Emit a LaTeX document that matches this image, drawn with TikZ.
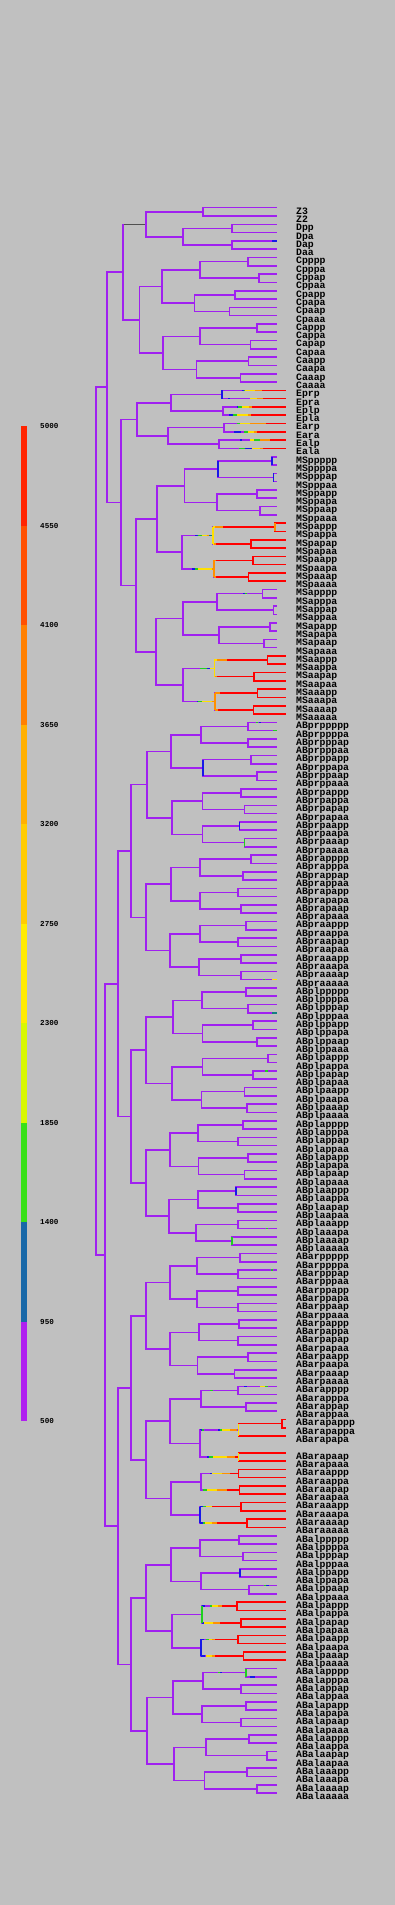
\documentclass[tikz,border=0pt]{standalone}
\usepackage{fontspec}
\newfontfamily\monof{Liberation Mono}
\usetikzlibrary{calc}
\pgfdeclarelayer{vb}
\pgfsetlayers{main,vb}
\definecolor{bg}{HTML}{C0C0C0}
\definecolor{pur}{HTML}{A020F0}
\definecolor{blu}{HTML}{1818E8}
\definecolor{grn}{HTML}{20D020}
\definecolor{yel}{HTML}{FFE000}
\definecolor{ora}{HTML}{FF9000}
\definecolor{rd}{HTML}{FF0000}
\definecolor{tl}{HTML}{108080}
\definecolor{dk}{HTML}{505050}
\definecolor{L1}{HTML}{FF2400}
\definecolor{L2}{HTML}{FF5000}
\definecolor{L3}{HTML}{FF8000}
\definecolor{L4}{HTML}{FFB000}
\definecolor{L5}{HTML}{FFCC00}
\definecolor{L6}{HTML}{FFEC00}
\definecolor{L7}{HTML}{D8F800}
\definecolor{L8}{HTML}{38E018}
\definecolor{L9}{HTML}{1868A8}
\definecolor{L10}{HTML}{B020F0}
\tikzset{
 br/.style={line width=1.6pt,pur},
 lab/.style={anchor=base west,inner sep=0pt,font=\monof\bfseries\fontsize{9.8}{10}\selectfont},
 leg/.style={anchor=west,inner sep=0pt,font=\monof\bfseries\fontsize{7.6}{8}\selectfont}}
\newcommand\JJ[6]{%
 \coordinate (#3m) at ($(#5)!.5!(#6)$);
 \coordinate (#3) at (#4,0 |- #3m);
 \draw[br,#1] (#3) |- (#5);
 \draw[br,#1] (#3) |- (#6);
 \begin{pgfonlayer}{vb}\draw[br,#2] (#3 |- #5) -- (#3 |- #6);\end{pgfonlayer}}
\newcommand\J[5][pur]{\JJ{pur}{#1}{#2}{#3}{#4}{#5}}
\newcommand\JR[5][rd]{\JJ{rd}{#1}{#2}{#3}{#4}{#5}}
\newcommand\sg[4]{\draw[br,#1] (#2,0 |- #4) -- (#3,0 |- #4);}
\newcommand\toR[2]{\draw[br,rd] (#1,0 |- #2) -- (#2);}
\newcommand\fivelab[2]{\foreach \a/\ai in {p/0,a/1} {\foreach \b/\bi in {p/0,a/1} {\foreach \c/\ci in {p/0,a/1} {\foreach \d/\di in {p/0,a/1} {\foreach \e/\ei in {p/0,a/1} {\pgfmathtruncatemacro\rr{#2+16*\ai+8*\bi+4*\ci+2*\di+\ei}\node[lab] (t\rr) at (296,{214.1+(\rr-1)*8.3}) {#1\a\b\c\d\e};}}}}}}
\newcommand\fourlab[2]{\foreach \b/\bi in {p/0,a/1} {\foreach \c/\ci in {p/0,a/1} {\foreach \d/\di in {p/0,a/1} {\foreach \e/\ei in {p/0,a/1} {\pgfmathtruncatemacro\rr{#2+8*\bi+4*\ci+2*\di+\ei}\node[lab] (t\rr) at (296,{214.1+(\rr-1)*8.3}) {#1\b\c\d\e};}}}}}
\newcommand\leafrow[3]{\foreach \r in {#1,...,#2} \coordinate (r\r) at (#3,{207.7+(\r-1)*8.3});}
\begin{document}
\begin{tikzpicture}[x=1pt,y=-1pt]
\fill[bg] (0,0) rectangle (395,1905);
\useasboundingbox (0,0) rectangle (395,1905);
% legend
\foreach \i/\c in {0/L1,1/L2,2/L3,3/L4,4/L5,5/L6,6/L7,7/L8,8/L9,9/L10}
  \fill[\c] (20.5,{426+99.5*\i}) rectangle (26.7,{525.5+99.5*\i});
\foreach \i/\v in {0/5000,1/4550,2/4100,3/3650,4/3200,5/2750,6/2300,7/1850,8/1400,9/950,10/500}
  \node[leg] (g\i) at (40,{426+99.5*\i}) {\v};
% leaves
\leafrow{1}{149}{276.7}
\leafrow{151}{192}{276.7}
\leafrow{23}{30}{286}
\leafrow{39}{46}{286}
\leafrow{55}{62}{286}
\leafrow{147}{149}{286}
\leafrow{151}{160}{286}
\leafrow{169}{176}{286}
% labels
\foreach \r/\t in {1/Z3,2/Z2,3/Dpp,4/Dpa,5/Dap,6/Daa,7/Cpppp,8/Cpppa,9/Cppap,10/Cppaa,11/Cpapp,12/Cpapa,13/Cpaap,14/Cpaaa,15/Cappp,16/Cappa,17/Capap,18/Capaa,19/Caapp,20/Caapa,21/Caaap,22/Caaaa,23/Eprp,24/Epra,25/Eplp,26/Epla,27/Earp,28/Eara,29/Ealp,30/Eala,143/ABarapppp,144/ABarapppa,145/ABarappap,146/ABarappaa,147/ABarapappp,148/ABarapappa,149/ABarapapa,151/ABarapaap,152/ABarapaaa,153/ABaraappp,154/ABaraappa,155/ABaraapap,156/ABaraapaa,157/ABaraaapp,158/ABaraaapa,159/ABaraaaap,160/ABaraaaaa}
  \node[lab] (t\r) at (296,{214.1+(\r-1)*8.3}) {\t};
\fivelab{MS}{31}
\fivelab{ABpr}{63}
\fivelab{ABpl}{95}
\fourlab{ABarp}{127}
\fivelab{ABal}{161}
% Z, D
\J{z}{202.7}{r1}{r2}
\J{dp}{231.7}{r3}{r4}
\J{da}{231.7}{r5}{r6}
\sg{blu}{272}{276.7}{r5}
\J{d}{182.7}{dp}{da}
\J{zd}{145.7}{z}{d}
% C
\J{c1}{247.7}{r7}{r8} \J{c2}{259}{r9}{r10} \J{cpp}{200}{c1}{c2}
\J{c3}{235}{r11}{r12} \J{c4}{229.3}{r13}{r14} \J{cpa}{194.3}{c3}{c4}
\J{cp}{161.7}{cpp}{cpa}
\J{c5}{256.7}{r15}{r16} \J{c6}{250.3}{r17}{r18} \J{cap}{200}{c5}{c6}
\J{c7}{248.3}{r19}{r20} \J{c8}{240.3}{r21}{r22} \J{caa}{196.3}{c7}{c8}
\J{ca}{162.7}{cap}{caa}
\J{c}{139.3}{cp}{ca}
\J{zdc}{122.7}{zd}{c}
\sg{bg}{123.6}{144.8}{zd}
\draw[dk,line width=0.7pt] (zdc |- zd) -- (zd);
% E
\J[blu]{e1}{221.7}{r23}{r24} \J{e2}{222.7}{r25}{r26}
\J{e3}{223.7}{r27}{r28} \J{e4}{218.7}{r29}{r30}
\sg{blu}{241.7}{243.5}{r23} \sg{grn}{243.5}{245}{r23} \sg{yel}{245}{255}{r23} \sg{ora}{255}{262}{r23} \toR{262}{r23}
\sg{blu}{228}{230}{r24} \sg{yel}{250}{257}{r24} \sg{ora}{257}{263}{r24} \toR{263}{r24}
\sg{blu}{236.7}{238}{r25} \sg{grn}{238}{241.7}{r25} \sg{yel}{241.7}{249}{r25} \sg{ora}{249}{252}{r25} \toR{252}{r25}
\sg{blu}{229}{233}{r26} \sg{grn}{233}{237}{r26} \sg{yel}{237}{248}{r26} \sg{ora}{248}{251}{r26} \toR{251}{r26}
\sg{grn}{236.7}{240}{r27} \sg{yel}{240}{250}{r27} \sg{ora}{250}{266}{r27} \toR{266}{r27}
\sg{blu}{234}{241}{r28} \sg{grn}{244}{248}{r28} \sg{yel}{248}{254}{r28} \sg{ora}{254}{257}{r28} \toR{257}{r28}
\sg{blu}{240}{241.5}{r29} \sg{yel}{250}{254}{r29} \sg{grn}{254}{260}{r29} \sg{ora}{260}{270}{r29} \toR{270}{r29}
\sg{grn}{239}{245}{r30} \sg{blu}{245}{252}{r30} \sg{yel}{252}{260}{r30} \sg{ora}{260}{263}{r30} \toR{263}{r30}
\J{ep}{170.7}{e1}{e2} \J{ea}{167.7}{e3}{e4} \J{e}{136.7}{ep}{ea}
% MS
\J[blu]{m1}{272}{r31}{r32} \J[blu]{m2}{273.3}{r33}{r34} \J[blu]{m12}{217.7}{m1}{m2}
\J{m3}{256.7}{r35}{r36} \J{m4}{260}{r37}{r38} \J{m34}{216.7}{m3}{m4}
\J{mpp}{184.3}{m12}{m34}
\JR[ora]{m5}{275}{r39}{r40} \JR{m6}{250.7}{r41}{r42} \J[yel]{m56}{212.7}{m5}{m6}
\sg{yel}{212.7}{215}{m5} \sg{ora}{215}{223}{m5} \toR{223}{m5}
\sg{yel}{212.7}{214}{m6} \sg{ora}{214}{216}{m6} \toR{216}{m6}
\JR{m7}{252.7}{r43}{r44} \JR{m8}{248.3}{r45}{r46} \J[ora]{m78}{213.7}{m7}{m8}
\sg{ora}{213.7}{216}{m7} \toR{216}{m7} \sg{ora}{213.7}{216}{m8} \toR{216}{m8}
\J{mpa}{181.7}{m56}{m78}
\sg{blu}{195}{198}{m56} \sg{grn}{198}{201.7}{m56} \sg{yel}{201.7}{206.7}{m56} \sg{ora}{206.7}{209.3}{m56} \sg{tl}{209.3}{212.7}{m56}
\sg{blu}{191.7}{195}{m78} \sg{grn}{195}{198.3}{m78} \sg{yel}{198.3}{211.7}{m78} \sg{ora}{211.7}{213.7}{m78}
\J{mp}{156.7}{mpp}{mpa}
\J{m9}{262.3}{r47}{r48} \J{m10}{273.3}{r49}{r50} \J{m910}{216.7}{m9}{m10}
\sg{blu}{243}{245}{m9} \sg{grn}{245}{247}{m9}
\J{m11}{270}{r51}{r52} \J{m12b}{264}{r53}{r54} \J{m1112}{219}{m11}{m12b}
\J{map}{182.7}{m910}{m1112}
\JR{m13}{267.3}{r55}{r56} \JR{m14}{254}{r57}{r58} \J[yel]{m1314}{214.3}{m13}{m14}
\sg{yel}{214.3}{217}{m13} \sg{ora}{217}{227}{m13} \toR{227}{m13}
\sg{ora}{214.3}{217}{m14} \toR{217}{m14}
\JR{m15}{257.3}{r59}{r60} \JR{m16}{253.3}{r61}{r62} \J[ora]{m1516}{215}{m15}{m16}
\sg{ora}{215}{220}{m15} \toR{220}{m15} \sg{ora}{215}{218}{m16} \toR{218}{m16}
\J{maa}{182.7}{m1314}{m1516}
\sg{grn}{200}{206.7}{m1314} \sg{blu}{206.7}{210}{m1314} \sg{yel}{210}{214.3}{m1314}
\sg{blu}{196.7}{198}{m1516} \sg{grn}{198}{201.7}{m1516} \sg{yel}{201.7}{211.7}{m1516} \sg{ora}{211.7}{215}{m1516}
\J{ma}{156}{map}{maa}
\J{ms}{136}{mp}{ma}
\J{ems}{120.7}{e}{ms}
\J{top}{106.7}{zdc}{ems}
% ABpr
\J{p1}{247.7}{r63}{r64} \J{p2}{247.7}{r65}{r66} \J{p12}{200.7}{p1}{p2}
\sg{grn}{256}{258}{r63} \sg{blu}{259}{261}{r63} \sg{grn}{273}{276.7}{r64}
\J{p3}{250.7}{r67}{r68} \J{p4}{256.7}{r69}{r70} \J[blu]{p34}{202.7}{p3}{p4}
\J{p5}{240.7}{r71}{r72} \J{p6}{244.3}{r73}{r74} \J{p56}{202.3}{p5}{p6}
\J[blu]{p7}{239.3}{r75}{r76} \J[grn]{p8}{244.3}{r77}{r78} \J{p78}{202.3}{p7}{p8}
\J{p9}{250.7}{r79}{r80} \J{p10}{242.7}{r81}{r82} \J{p910}{200}{p9}{p10}
\J{p11}{237.7}{r83}{r84} \J{p12b}{240.7}{r85}{r86} \J{p1112}{200}{p11}{p12b}
\J{p13}{245.7}{r87}{r88} \J{p14}{237.7}{r89}{r90} \J{p1314}{200}{p13}{p14}
\J{p15}{240.7}{r91}{r92} \J{p16}{240.7}{r93}{r94} \J{p1516}{199}{p15}{p16}
\sg{grn}{263}{265}{r94} \sg{yel}{272}{276.7}{r94}
\J{pr1}{170.7}{p12}{p34} \J{pr2}{171.7}{p56}{p78} \J{pr3}{170.7}{p910}{p1112} \J{pr4}{170}{p1314}{p1516}
\J{prA}{146.7}{pr1}{pr2} \J{prB}{146}{pr3}{pr4} \J{pr}{130.7}{prA}{prB}
% ABpl
\J{l1}{245.7}{r95}{r96} \J{l2}{247.7}{r97}{r98} \J{l12}{201.7}{l1}{l2}
\sg{tl}{272}{276.7}{r98}
\J{l3}{252.7}{r99}{r100} \J{l4}{256.7}{r101}{r102} \J{l34}{202.3}{l3}{l4}
\J{l5}{267.7}{r103}{r104} \J{l6}{252.7}{r105}{r106} \J{l56}{202.3}{l5}{l6}
\sg{grn}{265}{268}{r105}
\J{l7}{244.3}{r107}{r108} \J{l8}{246.7}{r109}{r110} \J{l78}{201.3}{l7}{l8}
\J{l9}{242.7}{r111}{r112} \J{l10}{237.7}{r113}{r114} \J{l910}{197.7}{l9}{l10}
\J{l11}{247.7}{r115}{r116} \J{l12b}{244.3}{r117}{r118} \J{l1112}{198.3}{l11}{l12b}
\J[blu]{l13}{235.7}{r119}{r120} \J{l14}{237.7}{r121}{r122} \J{l1314}{197.7}{l13}{l14}
\J{l15}{237.7}{r123}{r124} \J[grn]{l16}{231.7}{r125}{r126} \J{l1516}{196}{l15}{l16}
\sg{grn}{266}{268}{r124}
\J{pl1}{172.7}{l12}{l34} \J{pl2}{171.7}{l56}{l78} \J{pl3}{170}{l910}{l1112} \J{pl4}{169}{l1314}{l1516}
\J{plA}{146}{pl1}{pl2} \J{plB}{146}{pl3}{pl4} \J{pl}{130.7}{plA}{plB}
\J{abp}{117.7}{pr}{pl}
% ABar
\J{a1}{240}{r127}{r128} \J{a2}{237.7}{r129}{r130} \J{a12}{196.7}{a1}{a2}
\sg{grn}{271}{273}{r129}
\J{a3}{237.7}{r131}{r132} \J{a4}{237.7}{r133}{r134} \J{a34}{196.7}{a3}{a4}
\J{a5}{239}{r135}{r136} \J{a6}{237.7}{r137}{r138} \J{a56}{199}{a5}{a6}
\J{a7}{247.7}{r139}{r140} \J{a8}{234.3}{r141}{r142} \J{a78}{197.3}{a7}{a8}
\J{a9}{237.7}{r143}{r144} \J{a10}{245.7}{r145}{r146} \J{a910}{200.7}{a9}{a10}
\sg{blu}{244}{247}{r143} \sg{yel}{260}{265}{r143} \sg{grn}{265}{268}{r143}
\sg{grn}{210}{213}{a9}
\JR{a11}{281.7}{r147}{r148} \JR[yel]{a11b}{238.3}{a11}{r149}
\JR[yel]{a12r}{238.3}{r151}{r152}
\J{a1112}{200}{a11b}{a12r}
\sg{blu}{200}{202}{a11b} \sg{grn}{202}{204}{a11b} \sg{blu}{218}{220}{a11b} \sg{grn}{220}{222}{a11b} \sg{yel}{222}{230}{a11b} \sg{ora}{230}{236.7}{a11b}
\sg{blu}{207}{209}{a12r} \sg{grn}{209}{213}{a12r} \sg{yel}{213}{226.7}{a12r} \sg{ora}{226.7}{235}{a12r} \sg{rd}{235}{238.3}{a12r}
\JR{a13}{238.3}{r153}{r154} \JR{a14}{239.3}{r155}{r156} \J{a1314}{200.7}{a13}{a14}
\sg{blu}{210}{211.7}{a13} \sg{yel}{211.7}{222}{a13} \sg{ora}{222}{230}{a13} \sg{rd}{230}{238.3}{a13}
\sg{grn}{203}{207}{a14} \sg{yel}{207}{216.7}{a14} \sg{ora}{216.7}{226.7}{a14} \sg{rd}{226.7}{239.3}{a14}
\JR{a15}{240.7}{r157}{r158} \JR{a16}{246.7}{r159}{r160} \J[blu]{a1516}{200}{a15}{a16}
\sg{blu}{200}{203}{a15} \sg{grn}{203}{206}{a15} \sg{yel}{206}{212}{a15} \sg{rd}{212}{240.7}{a15}
\sg{blu}{200}{203}{a16} \sg{grn}{203}{205}{a16} \sg{yel}{205}{211.7}{a16} \sg{ora}{211.7}{216.7}{a16} \sg{rd}{216.7}{246.7}{a16}
\J{ar1}{170}{a12}{a34} \J{ar2}{170}{a56}{a78} \J{ar3}{170}{a910}{a1112} \J{ar4}{170.7}{a1314}{a1516}
\J{arA}{146}{ar1}{ar2} \J{arB}{146}{ar3}{ar4} \J{ar}{130.7}{arA}{arB}
% ABal
\J{b1}{239}{r161}{r162} \J{b2}{242.7}{r163}{r164} \J{b12}{200}{b1}{b2}
\J[blu]{b3}{240}{r165}{r166} \J{b4}{249}{r167}{r168} \J{b34}{200.7}{b3}{b4}
\sg{grn}{264}{266}{r167} \sg{blu}{266}{269}{r167}
\JR{b5}{236.7}{r169}{r170} \JR{b6}{240.7}{r171}{r172} \J[grn]{b56}{201.7}{b5}{b6}
\sg{blu}{201.7}{205}{b5} \sg{grn}{210}{211.7}{b5} \sg{yel}{211.7}{218}{b5} \sg{ora}{218}{222}{b5} \sg{rd}{222}{236.7}{b5}
\sg{blu}{201.7}{204}{b6} \sg{yel}{204}{213}{b6} \sg{ora}{213}{220}{b6} \sg{rd}{220}{240.7}{b6}
\JR{b7}{237.7}{r173}{r174} \JR{b8}{243.3}{r175}{r176} \J[blu]{b78}{201}{b7}{b8}
\sg{blu}{201}{204}{b7} \sg{grn}{206}{209}{b7} \sg{yel}{209}{212}{b7} \sg{ora}{212}{215}{b7} \sg{rd}{215}{237.7}{b7}
\sg{blu}{201}{205}{b8} \sg{yel}{206}{212}{b8} \sg{ora}{212}{215}{b8} \sg{rd}{215}{243.3}{b8}
\J[grn]{b9}{245.7}{r177}{r178} \J{b10}{240.7}{r179}{r180} \J{b910}{202.7}{b9}{b10}
\sg{grn}{218}{220}{b9} \sg{blu}{220}{222}{b9} \sg{blu}{250}{255}{r178}
\J{b11}{245.7}{r181}{r182} \J{b12b}{240.7}{r183}{r184} \J{b1112}{201.7}{b11}{b12b}
\J{b13}{249}{r185}{r186} \J{b14}{266.7}{r187}{r188} \J{b1314}{205.7}{b13}{b14}
\J{b15}{246.7}{r189}{r190} \J{b16}{256.7}{r191}{r192} \J{b1516}{204.3}{b15}{b16}
\J{al1}{170.7}{b12}{b34} \J{al2}{171.7}{b56}{b78} \J{al3}{172.7}{b910}{b1112} \J{al4}{174}{b1314}{b1516}
\J{alA}{146}{al1}{al2} \J{alB}{146.7}{al3}{al4} \J{al}{130.7}{alA}{alB}
\J{aba}{117.7}{ar}{al}
\J{ab}{105}{abp}{aba}
\J{root}{95.7}{top}{ab}
\end{tikzpicture}
\end{document}
